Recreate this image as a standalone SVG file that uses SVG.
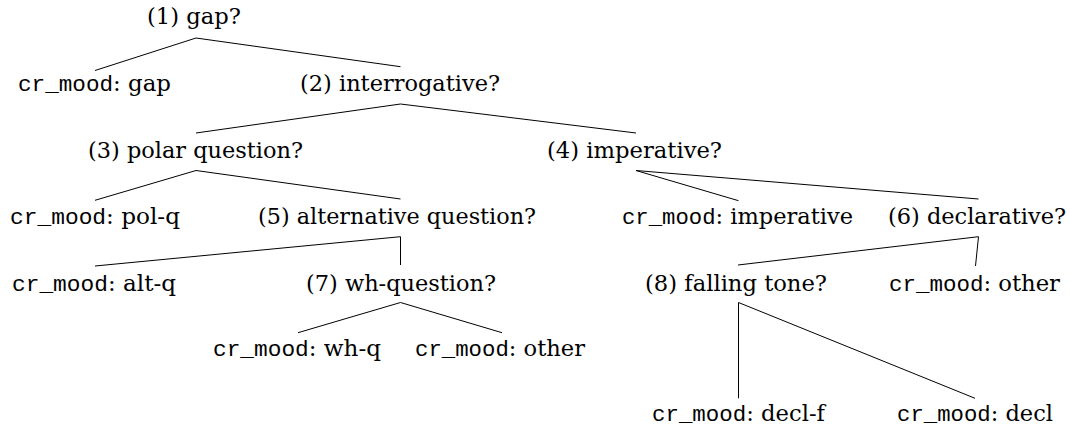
<svg xmlns="http://www.w3.org/2000/svg" width="1070" height="427" viewBox="0 0 1070 427">
  <style>
    .lbl { font-family: 'DejaVu Serif', 'Liberation Serif', serif; font-size: 23px; fill: #000; }
    .tt { font-family: 'Liberation Mono', 'DejaVu Sans Mono', monospace; font-size: 22.75px; }
    .edge { stroke: #000; stroke-width: 1; fill: none; }
  </style>
  <rect width="1070" height="427" fill="#fff"/>
  <g id="connectors">
    <line class="edge" x1="196" y1="38" x2="95" y2="70.5"/>
    <line class="edge" x1="196" y1="38" x2="400.5" y2="66.7"/>
    <line class="edge" x1="400.5" y1="104" x2="196" y2="133"/>
    <line class="edge" x1="400.5" y1="104" x2="636" y2="133"/>
    <line class="edge" x1="196" y1="170.5" x2="95" y2="200.3"/>
    <line class="edge" x1="196" y1="170.5" x2="400.5" y2="199"/>
    <line class="edge" x1="636" y1="170.5" x2="738.5" y2="200.7"/>
    <line class="edge" x1="636" y1="170.5" x2="978.5" y2="199"/>
    <line class="edge" x1="400.5" y1="236.7" x2="95" y2="266"/>
    <line class="edge" x1="400.5" y1="236.7" x2="400.5" y2="265"/>
    <line class="edge" x1="978.5" y1="236.7" x2="738" y2="265"/>
    <line class="edge" x1="978.5" y1="236.7" x2="975.5" y2="266"/>
    <line class="edge" x1="400.5" y1="302.5" x2="298" y2="332.7"/>
    <line class="edge" x1="400.5" y1="302.5" x2="502" y2="332.7"/>
    <line class="edge" x1="738.5" y1="302.5" x2="738.5" y2="398.3"/>
    <line class="edge" x1="738.5" y1="302.5" x2="975" y2="398.3"/>
  </g>
  <g id="n1"><text class="lbl" x="147" y="24" textLength="94" lengthAdjust="spacingAndGlyphs">(1) gap?</text></g>
  <g id="leaf-gap"><text class="lbl" x="18" y="91" textLength="153" lengthAdjust="spacingAndGlyphs"><tspan class="tt">cr_mood</tspan>: gap</text></g>
  <g id="n2"><text class="lbl" x="300" y="91" textLength="200" lengthAdjust="spacingAndGlyphs">(2) interrogative?</text></g>
  <g id="n3"><text class="lbl" x="88" y="158" textLength="215" lengthAdjust="spacingAndGlyphs">(3) polar question?</text></g>
  <g id="n4"><text class="lbl" x="547" y="158" textLength="175" lengthAdjust="spacingAndGlyphs">(4) imperative?</text></g>
  <g id="leaf-polq"><text class="lbl" x="10" y="224" textLength="170" lengthAdjust="spacingAndGlyphs"><tspan class="tt">cr_mood</tspan>: pol-q</text></g>
  <g id="n5"><text class="lbl" x="258" y="224" textLength="278" lengthAdjust="spacingAndGlyphs">(5) alternative question?</text></g>
  <g id="leaf-imperative"><text class="lbl" x="622" y="224" textLength="231" lengthAdjust="spacingAndGlyphs"><tspan class="tt">cr_mood</tspan>: imperative</text></g>
  <g id="n6"><text class="lbl" x="888" y="224" textLength="178" lengthAdjust="spacingAndGlyphs">(6) declarative?</text></g>
  <g id="leaf-altq"><text class="lbl" x="12" y="291" textLength="164" lengthAdjust="spacingAndGlyphs"><tspan class="tt">cr_mood</tspan>: alt-q</text></g>
  <g id="n7"><text class="lbl" x="306" y="291" textLength="190" lengthAdjust="spacingAndGlyphs">(7) wh-question?</text></g>
  <g id="n8"><text class="lbl" x="645" y="291" textLength="182" lengthAdjust="spacingAndGlyphs">(8) falling tone?</text></g>
  <g id="leaf-other1"><text class="lbl" x="889" y="291" textLength="171" lengthAdjust="spacingAndGlyphs"><tspan class="tt">cr_mood</tspan>: other</text></g>
  <g id="leaf-whq"><text class="lbl" x="213" y="356" textLength="168" lengthAdjust="spacingAndGlyphs"><tspan class="tt">cr_mood</tspan>: wh-q</text></g>
  <g id="leaf-other2"><text class="lbl" x="415" y="356" textLength="170" lengthAdjust="spacingAndGlyphs"><tspan class="tt">cr_mood</tspan>: other</text></g>
  <g id="leaf-declf"><text class="lbl" x="652" y="421" textLength="173" lengthAdjust="spacingAndGlyphs"><tspan class="tt">cr_mood</tspan>: decl-f</text></g>
  <g id="leaf-decl"><text class="lbl" x="897" y="421" textLength="156" lengthAdjust="spacingAndGlyphs"><tspan class="tt">cr_mood</tspan>: decl</text></g>
</svg>
